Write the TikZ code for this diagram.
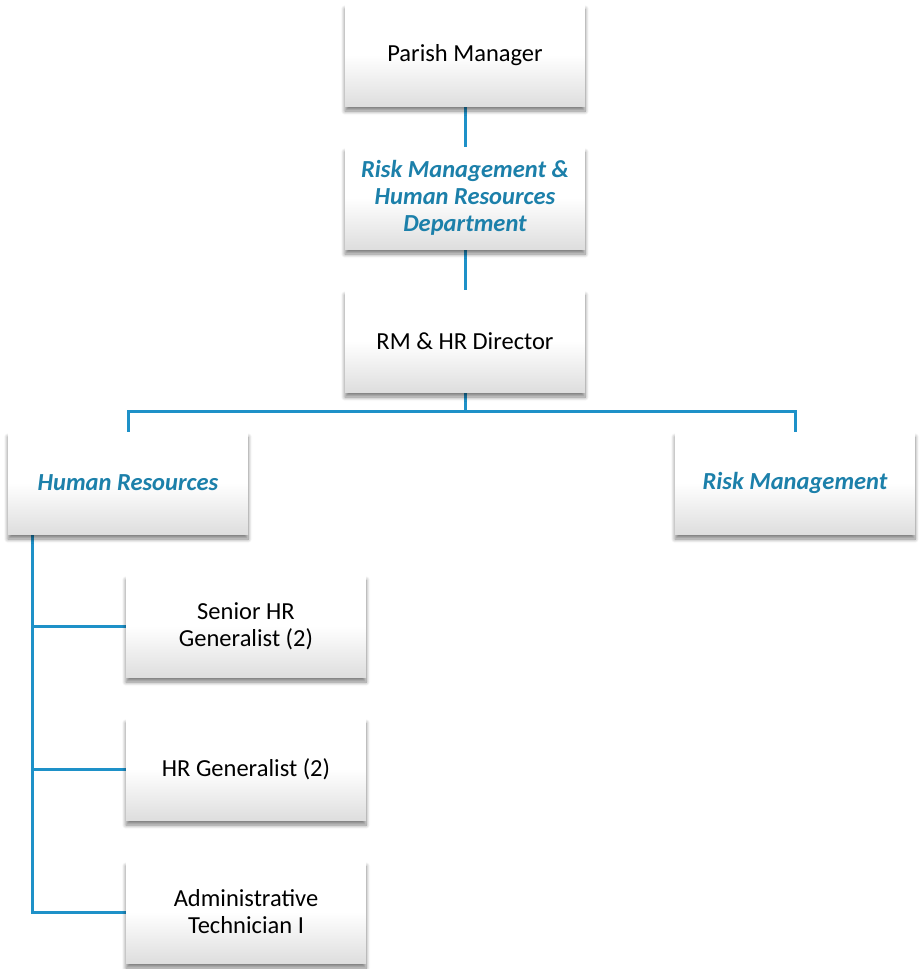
\documentclass[tikz,border=0pt]{standalone}
\usepackage{fontspec}
\setmainfont{Carlito}
\usetikzlibrary{shadows.blur,backgrounds}
\definecolor{linec}{RGB}{30,145,200}
\definecolor{headc}{RGB}{28,128,170}
\tikzset{
  box/.style={draw=none, minimum width=240pt, minimum height=102pt, inner sep=0pt,
    align=center, font=\fontsize{24.5}{27}\selectfont,
    top color=white, bottom color=black!13, middle color=white,
    blur shadow={shadow xshift=0pt, shadow yshift=-5pt, shadow opacity=50, shadow blur steps=8, shadow blur radius=4pt}},
  head/.style={box, text=headc, font=\fontsize{24.5}{27}\selectfont\bfseries\itshape},
  conn/.style={draw=linec, line width=3pt},
}
\begin{document}
\begin{tikzpicture}[x=1pt,y=1pt]
\useasboundingbox (0,0) rectangle (919,-969);
\node[box]  (pm)   at (465,-55)  {Parish Manager};
\node[head] (dept) at (465,-198) {Risk Management \&\\Human Resources\\Department};
\node[box]  (dir)  at (465,-341) {RM \& HR Director};
\node[head] (hr)   at (128,-483) {Human Resources};
\node[head] (rm)   at (795,-483) {Risk Management};
\node[box]  (s1)   at (246,-626) {Senior HR\\Generalist (2)};
\node[box]  (s2)   at (246,-769) {HR Generalist (2)};
\node[box]  (s3)   at (246,-912) {Administrative\\Technician I};
\begin{scope}[on background layer]
\draw[conn] (pm.south) -- (dept.north);
\draw[conn] (dept.south) -- (dir.north);
\draw[conn] (dir.south) -- ++(0,-19) coordinate (bus) -| (hr.north);
\draw[conn] (bus) -| (rm.north);
\draw[conn] ([xshift=25pt]hr.south west) coordinate (hl) |- (s1.west);
\draw[conn] (hl) |- (s2.west);
\draw[conn] (hl) |- (s3.west);
\end{scope}
\end{tikzpicture}
\end{document}
